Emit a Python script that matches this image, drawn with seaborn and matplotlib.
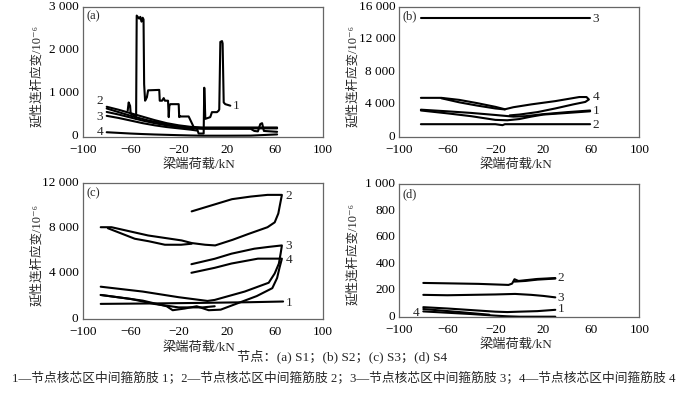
import numpy as np
import pandas as pd
import matplotlib
matplotlib.use("Agg")
import matplotlib.pyplot as plt
import matplotlib.transforms as mtransforms
import seaborn as sns

# ---------------- data ----------------
x_ticks = [-100, -60, -20, 20, 60, 100]

# panel (a) node S1
a1_x = [-62.5, -61.7, -60.5, -60, -57, -55.5, -55, -53, -52, -51, -50, -49.3, -48.8, -48, -46.5, -45.5,
        -36.2, -35.8, -33.9, -32.5, -31.5, -28.9, -28.3, -27.8, -27, -20, -19.6, -19.2, -18.7, -11.7,
        -7.5, -4.8, -3.4, 0.8, 1.3, 2.2, 6.3, 7.7, 11.9, 13.3, 13.8, 14.7, 16.1, 16.6, 17.5, 18.8, 23]
a1_y = [590, 780, 700, 520, 480, 400, 2790, 2720, 2760, 2650, 2740, 2700, 1200, 820, 900, 1060,
        1070, 820, 820, 880, 820, 820, 440, 700, 740, 740, 440, 470, 455, 455,
        210, 175, 60, 60, 1120, 400, 440, 555, 555, 590, 620, 2180, 2200, 2145, 780, 740, 705]
a2_x = [-80, -70, -60, -50, -40, -30, -20, -10, 0, 20, 40, 62]
a2_y = [680, 610, 530, 450, 370, 300, 250, 215, 200, 200, 200, 200]
a2b_x = [62, 30, 0, -10, -20, -30, -45, -60, -80]
a2b_y = [180, 180, 185, 200, 230, 280, 360, 470, 640]
a3_x = [-80, -70, -60, -50, -40, -30, -20, -10, 0, 20, 40, 43, 46, 48, 49.5, 51, 62]
a3_y = [560, 500, 430, 360, 300, 250, 210, 180, 170, 170, 170, 120, 110, 280, 300, 120, 100]
a3b_x = [-80, -70, -60, -50, -40, -30, -20, -10, -5]
a3b_y = [470, 420, 360, 300, 250, 210, 180, 150, 130]
a4_x = [-80, -70, -60, -50, -40, -30, -20, -10, 0, 20, 40, 62]
a4_y = [90, 75, 60, 48, 38, 30, 22, 15, 10, 10, 12, 40]

# panel (b) node S2
b1_x = [-82, -60, -40, -20, -5, 5, 20, 40, 59]
b1_y = [3350, 3150, 2950, 2700, 2500, 2550, 2800, 3050, 3250]
b1b_x = [59, 40, 20, 10, 0, -10, -20, -40, -60, -82]
b1b_y = [3150, 2950, 2750, 2500, 2200, 2050, 2100, 2550, 2900, 3250]
b2_x = [-82, -20, -14, -12, 59]
b2_y = [1570, 1570, 1450, 1570, 1570]
b3_x = [-82, -20, 20, 58.6]
b3_y = [14600, 14600, 14600, 14600]
b4_x = [-82, -65, -50, -35, -20, -12, -5, 10, 30, 50, 56, 58, 55, 45, 30, 15, 0, -8]
b4_y = [4800, 4800, 4550, 4150, 3700, 3400, 3650, 4000, 4400, 4900, 4900, 4600, 4300, 4000, 3500, 3050, 2750, 2650]
b4b_x = [-65, -50, -35, -20, -12]
b4b_y = [4750, 4250, 3850, 3500, 3380]

# panel (c) node S3
c1_x = [-85, -40, 0, 40, 67]
c1_y = [1310, 1350, 1400, 1460, 1520]
c2_x = [-85, -76, -45.5, -17.5, -9.2, 2, 10.4, 25, 38, 54, 60, 63, 64.5, 66, 54, 40, 24.4, 10.4, -9.2]
c2_y = [8090, 8090, 7360, 6920, 6690, 6540, 6480, 6980, 7490, 8090, 8520, 9300, 10130, 10950, 10950, 10800, 10570, 10120, 9490]
c2b_x = [-79, -56.6, -45, -31.5, -18, -9.2]
c2b_y = [8000, 7070, 6850, 6540, 6540, 6630]
c3_x = [-9.4, 10, 24, 43, 55, 66, 65, 63.5, 60, 55, 35, 10, 4, -20, -50, -85]
c3_y = [4820, 5300, 5750, 6190, 6350, 6480, 5800, 4880, 4000, 3180, 2400, 1660, 1570, 1900, 2400, 2830]
c3b_x = [-85, -60, -40, -20, 0, 10]
c3b_y = [2100, 1750, 1300, 1000, 1000, 1100]
c4_x = [-9.4, 10, 24, 46, 66, 64, 62, 58, 45, 25, 15, 5, -5, -15, -25, -30, -50, -85]
c4_y = [4060, 4500, 4880, 5310, 5310, 4500, 3600, 2700, 2000, 1200, 800, 750, 1100, 900, 750, 1100, 1600, 2100]

# panel (d) node S4
d1_x = [-80, -60, -40, -20, -10, 0, 15, 30]
d1_y = [72, 62, 50, 38, 35, 38, 42, 52]
d1b_x = [-80, -50, -25]
d1b_y = [58, 35, 15]
d2_x = [-80, -60, -34, -9, -6, -4, -0.7, 15, 30]
d2_y = [255, 252, 248, 240, 250, 283, 270, 285, 292]
d2b_x = [-4, 5, 15, 30]
d2b_y = [265, 270, 280, 288]
d3_x = [-80, -60, -40, -20, -3.5, 10, 20, 30]
d3_y = [165, 162, 165, 168, 172, 165, 157, 146]
d4_x = [-80, -60, -40, -20, -10, 0, 30]
d4_y = [40, 30, 20, 8, 3, 0, 0]

# ---------------- style ----------------
sns.set_style("white")
plt.rcParams['font.family'] = ['Liberation Serif', 'Noto Sans CJK SC', 'DejaVu Sans']

fig = plt.figure(figsize=(6.8, 3.95), dpi=100)

def frame(segments):
    rows = []
    for i, (xs, ys) in enumerate(segments):
        for xv, yv in zip(xs, ys):
            rows.append((xv, yv, i))
    return pd.DataFrame(rows, columns=["x", "y", "seg"])

def fmt(v):
    v = int(round(v))
    s = f"{abs(v):,}".replace(",", " ")
    return ("\u2212" if v < 0 else "") + s

def panel(rect, segments, ylim, yticks, letter, labels):
    ax = fig.add_axes(rect)
    df = frame(segments)
    sns.lineplot(data=df, x="x", y="y", units="seg", estimator=None, sort=False,
                 color="black", linewidth=1.5, ax=ax)
    ax.set_xlim(-100, 100)
    ax.set_ylim(*ylim)
    ax.set_xticks(x_ticks)
    ax.set_xticklabels([fmt(t) for t in x_ticks], fontsize=9.5)
    ax.set_yticks(yticks)
    ax.set_yticklabels([fmt(t) for t in yticks], fontsize=9.5)
    ax.tick_params(direction="in", length=3, width=0.8, colors="black")
    ax.tick_params(axis="x", pad=5)
    ax.tick_params(axis="y", pad=3)
    shift = mtransforms.ScaledTranslation(0, 1.5 / 100, fig.dpi_scale_trans)
    for lab in ax.get_yticklabels():
        lab.set_transform(lab.get_transform() + shift)
    for s in ax.spines.values():
        s.set_color("#666666")
        s.set_linewidth(0.9)
    ax.set_xlabel("梁端荷载/kN", fontsize=9.5)
    ax.set_ylabel("延性连杆应变/10\u207b\u2076", fontsize=9)
    ax.xaxis.set_label_coords(0.485, -0.165)
    ax.yaxis.set_label_coords(-0.165, 0.47)
    ax.text(0.015, 0.97, letter, transform=ax.transAxes, ha="left", va="top", fontsize=9)
    for (tx, ty, t, ha) in labels:
        ax.text(tx, ty, t, ha=ha, va="center", fontsize=9.5)
    return ax

W = 240 / 680
panel([82.7 / 680, (395 - 137) / 395, W, 130.5 / 395],
      [(a1_x, a1_y), (a2_x, a2_y), (a2b_x, a2b_y), (a3_x, a3_y), (a3b_x, a3b_y), (a4_x, a4_y)],
      (-20, 3000), [0, 1000, 2000, 3000], "(a)",
      [(25, 690, "1", "left"), (-83, 820, "2", "right"), (-83, 440, "3", "right"), (-83, 85, "4", "right")])

panel([399.3 / 680, (395 - 137) / 395, W, 130.5 / 395],
      [(b1_x, b1_y), (b1b_x, b1b_y), (b2_x, b2_y), (b3_x, b3_y), (b4_x, b4_y), (b4b_x, b4b_y)],
      (0, 16000), [0, 4000, 8000, 12000, 16000], "(b)",
      [(61, 3200, "1", "left"), (61, 1450, "2", "left"), (61, 14500, "3", "left"), (61, 4950, "4", "left")])

panel([82.7 / 680, (395 - 318.7) / 395, W, 135.7 / 395],
      [(c1_x, c1_y), (c2_x, c2_y), (c2b_x, c2b_y), (c3_x, c3_y), (c3b_x, c3b_y), (c4_x, c4_y)],
      (0, 12000), [0, 4000, 8000, 12000], "(c)",
      [(69, 1430, "1", "left"), (69, 10850, "2", "left"), (69, 6450, "3", "left"), (69, 5150, "4", "left")])

panel([399.3 / 680, (395 - 316.7) / 395, W, 132.4 / 395],
      [(d1_x, d1_y), (d1b_x, d1b_y), (d2_x, d2_y), (d2b_x, d2b_y), (d3_x, d3_y), (d4_x, d4_y)],
      (0, 1000), [0, 200, 400, 600, 800, 1000], "(d)",
      [(32, 55, "1", "left"), (32, 290, "2", "left"), (32, 142, "3", "left"), (-83, 28, "4", "right")])

fig.text(0.503, 1 - 356.7 / 395, "节点：(a) S1；(b) S2；(c) S3；(d) S4",
         ha="center", va="center", fontsize=9.5)
fig.text(11.7 / 680, 1 - 378 / 395,
         "1—节点核芯区中间箍筋肢 1；2—节点核芯区中间箍筋肢 2；3—节点核芯区中间箍筋肢 3；4—节点核芯区中间箍筋肢 4",
         ha="left", va="center", fontsize=9.15)

fig.savefig("out.png", dpi=100)
